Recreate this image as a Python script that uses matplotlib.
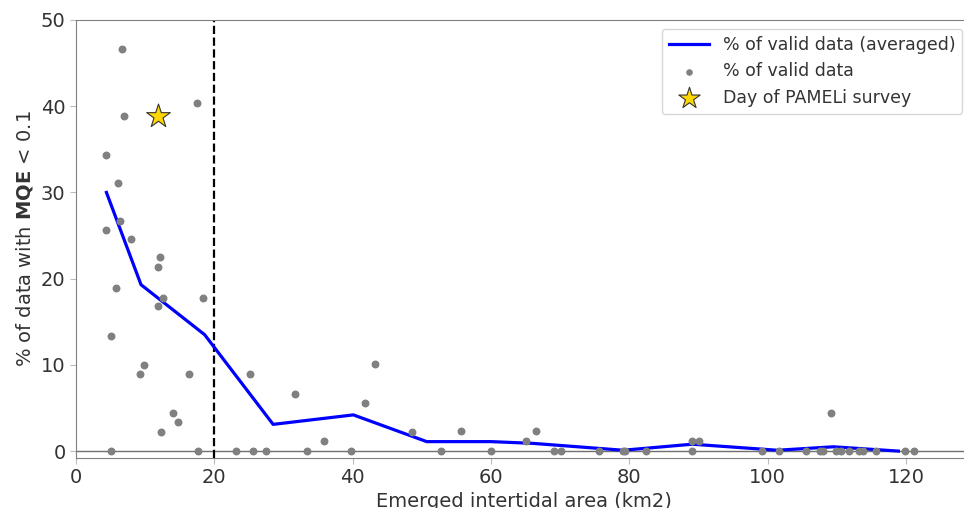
import matplotlib.pyplot as plt
import numpy as np

# averaged curve
x_avg = [4.4, 9.4, 18.6, 28.5, 40.1, 50.7, 60.0, 66.0, 79.1, 89.1, 101.4, 109.5, 118.9]
y_avg = [30.0, 19.3, 13.5, 3.1, 4.2, 1.1, 1.1, 0.9, 0.1, 0.8, 0.1, 0.5, 0.0]

# individual points
x_pts = [6.7, 17.5, 6.9, 4.4, 6.1, 6.4, 4.3, 8.0, 12.1, 11.8, 5.8, 12.6, 18.3,
         11.9, 5.1, 9.8, 9.2, 16.3, 25.2, 31.6, 14.0, 14.7, 12.3,
         5.1, 17.7, 23.2, 25.6, 27.4, 33.4,
         43.2, 41.8, 35.8, 48.6, 55.7, 65.1, 66.5, 39.7, 52.7, 60.0,
         69.1, 70.1, 75.6, 79.1, 79.4, 82.4, 89.1, 90.1, 89.1, 99.2, 101.6,
         105.5, 107.6, 108.0, 109.2, 109.9, 110.6, 111.7, 113.2, 113.8,
         115.7, 119.9, 121.2]
y_pts = [46.6, 40.4, 38.9, 34.4, 31.1, 26.7, 25.6, 24.6, 22.5, 21.3, 18.9, 17.8, 17.8,
         16.8, 13.3, 10.0, 8.9, 8.9, 8.9, 6.6, 4.4, 3.4, 2.2,
         0, 0, 0, 0, 0, 0,
         10.1, 5.6, 1.2, 2.2, 2.3, 1.2, 2.3, 0, 0, 0,
         0, 0, 0, 0, 0, 0, 1.2, 1.2, 0, 0, 0,
         0, 0, 0, 4.45, 0, 0, 0, 0, 0,
         0, 0, 0]

survey_x = [11.9]
survey_y = [38.9]

fig = plt.figure(figsize=(9.64, 5.08), dpi=100)
ax = fig.add_axes([76/964, 50/508, 895/964, 438/508])

ax.axhline(0, color='#707070', lw=1, zorder=1)
ax.axvline(20, color='black', ls='--', lw=1.6, zorder=2)
ax.plot(x_avg, y_avg, color='blue', lw=2.3, label='% of valid data (averaged)', zorder=3)
ax.scatter(x_pts, y_pts, s=22, color='gray', label='% of valid data', zorder=4)
ax.scatter(survey_x, survey_y, s=320, marker='*', color='#FFD700', edgecolor='#333333',
           linewidth=0.8, label='Day of PAMELi survey', zorder=5)

ax.set_xlim(0, 129.4)
ax.set_ylim(-0.8, 50)
ax.set_xticks([0, 20, 40, 60, 80, 100, 120])
ax.set_yticks([0, 10, 20, 30, 40, 50])

for sp in ax.spines.values():
    sp.set_color('#808080')
ax.tick_params(colors='#bbbbbb', labelcolor='#333333', labelsize=14, length=4)

ax.set_xlabel('Emerged intertidal area (km2)', fontsize=14, color='#333333', labelpad=3)
ax.set_ylabel(r'% of data with $\bf{MQE}$ < 0.1', fontsize=14, color='#333333')

leg = ax.legend(loc='upper right', fontsize=12.5, handlelength=2.3)
leg.legend_handles[1].set_sizes([14])
leg.legend_handles[2].set_sizes([260])
for t in leg.get_texts():
    t.set_color('#333333')

fig.savefig('out.png', dpi=100)
